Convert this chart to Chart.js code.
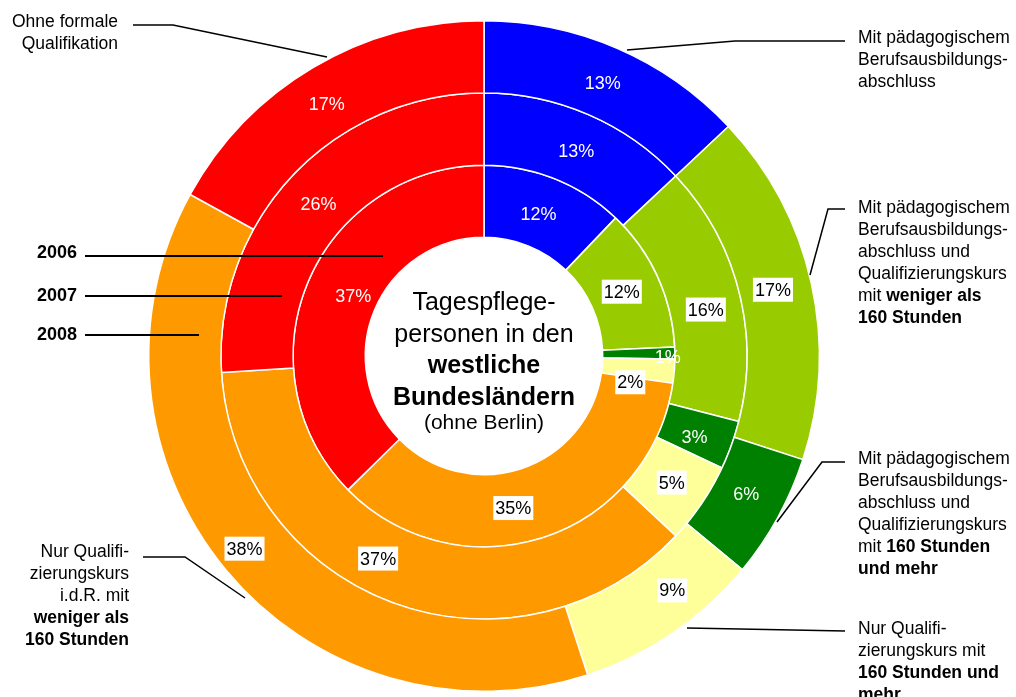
<!DOCTYPE html>
<html>
<head>
<meta charset="utf-8">
<script src="https://cdn.jsdelivr.net/npm/chart.js@4.4.1/dist/chart.umd.min.js"></script>
<style>
    html, body { margin: 0; padding: 0; background: #fff; }
    #wrap { width: 1016px; height: 697px; }
</style>
</head>
<body>
<div id="wrap"><canvas id="rings" width="1016" height="697"></canvas></div>
<script>
// data
const categories = [
    'Mit pädagogischem Berufsausbildungsabschluss',
    'Mit pädagogischem Berufsausbildungsabschluss und Qualifizierungskurs mit weniger als 160 Stunden',
    'Mit pädagogischem Berufsausbildungsabschluss und Qualifizierungskurs mit 160 Stunden und mehr',
    'Nur Qualifizierungskurs mit 160 Stunden und mehr',
    'Nur Qualifizierungskurs i.d.R. mit weniger als 160 Stunden',
    'Ohne formale Qualifikation'
];
const years = ['2008', '2007', '2006'];   // outer ring first
const share2008 = [13, 17, 6, 9, 38, 17];
const share2007 = [13, 16, 3, 5, 37, 26];
const share2006 = [12, 12, 1, 2, 35, 37];

const colors = ['#0000ff', '#99cc00', '#008000', '#ffff99', '#ff9900', '#ff0000'];
const whiteText = [true, false, true, false, false, true];

// hand nudges of the % labels (px), as placed in the original
const labelNudge = [
    [[0, 2], [-3, -1], [0, -6], [20, -13], [-9, 2], [-5, 6]],
    [[2, 3], [2, 10], [-3, 4], [0, -1], [-29, -11], [0, 3]],
    [[-3, 2], [-3, 0], [29, 3], [-8, 14], [-19, 5], [12, 0]]
];

const FONT = '"Liberation Sans", Arial, Helvetica, sans-serif';

// category labels round the rings, [text, bold] parts per line
const catLabels = [
    { x: 858, y: 38, align: 'left',
      lines: [[['Mit pädagogischem', 0]], [['Berufsausbildungs-', 0]], [['abschluss', 0]]],
      leader: [[845, 41], [735, 41], [627, 50]] },
    { x: 858, y: 208, align: 'left',
      lines: [[['Mit pädagogischem', 0]], [['Berufsausbildungs-', 0]], [['abschluss und', 0]],
              [['Qualifizierungskurs', 0]], [['mit ', 0], ['weniger als', 1]], [['160 Stunden', 1]]],
      leader: [[845, 209], [828, 209], [810, 275]] },
    { x: 858, y: 459, align: 'left',
      lines: [[['Mit pädagogischem', 0]], [['Berufsausbildungs-', 0]], [['abschluss und', 0]],
              [['Qualifizierungskurs', 0]], [['mit ', 0], ['160 Stunden', 1]], [['und mehr', 1]]],
      leader: [[845, 462], [822, 462], [777, 522]] },
    { x: 858, y: 629, align: 'left',
      lines: [[['Nur Qualifi-', 0]], [['zierungskurs mit', 0]], [['160 Stunden und', 1]], [['mehr', 1]]],
      leader: [[845, 631], [740, 629], [687, 628]] },
    { x: 129, y: 552, align: 'right',
      lines: [[['Nur Qualifi-', 0]], [['zierungskurs', 0]], [['i.d.R. mit', 0]], [['weniger als', 1]], [['160 Stunden', 1]]],
      leader: [[143, 557], [185, 557], [245, 598]] },
    { x: 118, y: 22, align: 'right',
      lines: [[['Ohne formale', 0]], [['Qualifikation', 0]]],
      leader: [[133, 25], [173, 25], [327, 57]] }
];

// year markers: label y and line end, relative to the ring centre
const yearMarks = [
    { text: '2006', y: 253, dx: -101, dy: -100 },
    { text: '2007', y: 296, dx: -202, dy: -60 },
    { text: '2008', y: 335, dx: -285, dy: -21 }
];

const centerLines = [
    ['Tagespflege-', false, 25, -46],
    ['personen in den', false, 25, -14],
    ['westliche', true, 25, 17],
    ['Bundesländern', true, 25, 49],
    ['(ohne Berlin)', false, 21, 73]
];

function drawRich(ctx, parts, x, y, align, size) {
    let total = 0;
    parts.forEach(p => {
        ctx.font = (p[1] ? 'bold ' : '') + size + 'px ' + FONT;
        total += ctx.measureText(p[0]).width;
    });
    let cx = align === 'right' ? x - total : x;
    ctx.textAlign = 'left';
    parts.forEach(p => {
        ctx.font = (p[1] ? 'bold ' : '') + size + 'px ' + FONT;
        ctx.fillText(p[0], cx, y);
        cx += ctx.measureText(p[0]).width;
    });
}

const annotations = {
    id: 'annotations',
    afterDraw(chart) {
        const ctx = chart.ctx;
        const arc0 = chart.getDatasetMeta(0).data[0];
        const cx = arc0.x, cy = arc0.y;
        ctx.save();

        // percentage labels
        ctx.textBaseline = 'middle';
        ctx.textAlign = 'center';
        ctx.font = '18px ' + FONT;
        chart.data.datasets.forEach((ds, di) => {
            chart.getDatasetMeta(di).data.forEach((arc, i) => {
                const pos = arc.tooltipPosition();
                const px = pos.x + labelNudge[di][i][0];
                const py = pos.y + labelNudge[di][i][1];
                const txt = ds.data[i] + '%';
                if (whiteText[i]) {
                    ctx.fillStyle = '#fff';
                } else {
                    const w = ctx.measureText(txt).width + 4;
                    ctx.fillStyle = '#fff';
                    ctx.fillRect(px - w / 2, py - 12, w, 24);
                    ctx.fillStyle = '#000';
                }
                ctx.fillText(txt, px, py + 1);
            });
        });

        // centre text
        ctx.fillStyle = '#000';
        centerLines.forEach(l => {
            ctx.font = (l[1] ? 'bold ' : '') + l[2] + 'px ' + FONT;
            ctx.textBaseline = 'alphabetic';
            ctx.fillText(l[0], cx, cy + l[3]);
        });

        // year markers
        ctx.strokeStyle = '#000';
        ctx.lineWidth = 2;
        yearMarks.forEach(m => {
            ctx.font = 'bold 18px ' + FONT;
            ctx.textAlign = 'right';
            ctx.textBaseline = 'middle';
            ctx.fillText(m.text, 77, m.y);
            ctx.beginPath();
            ctx.moveTo(85, cy + m.dy);
            ctx.lineTo(cx + m.dx, cy + m.dy);
            ctx.stroke();
        });

        // category labels with leader lines
        ctx.lineWidth = 1.5;
        catLabels.forEach(c => {
            ctx.beginPath();
            c.leader.forEach((p, k) => k ? ctx.lineTo(p[0], p[1]) : ctx.moveTo(p[0], p[1]));
            ctx.stroke();
            ctx.textBaseline = 'middle';
            c.lines.forEach((parts, k) => drawRich(ctx, parts, c.x, c.y + k * 22, c.align, 17.5));
        });
        ctx.restore();
    }
};

const ringData = [share2008, share2007, share2006];

new Chart(document.getElementById('rings'), {
    type: 'doughnut',
    data: {
        labels: categories,
        datasets: years.map((y, i) => ({
            label: y,
            data: ringData[i],
            backgroundColor: colors,
            borderColor: '#fff',
            borderWidth: 1.5
        }))
    },
    options: {
        responsive: false,
        animation: false,
        devicePixelRatio: 1,
        cutout: '35.4%',
        layout: { padding: { left: 148, right: 196, top: 20, bottom: 5 } },
        plugins: {
            legend: { display: false },
            tooltip: { enabled: false }
        }
    },
    plugins: [annotations]
});
</script>
</body>
</html>
